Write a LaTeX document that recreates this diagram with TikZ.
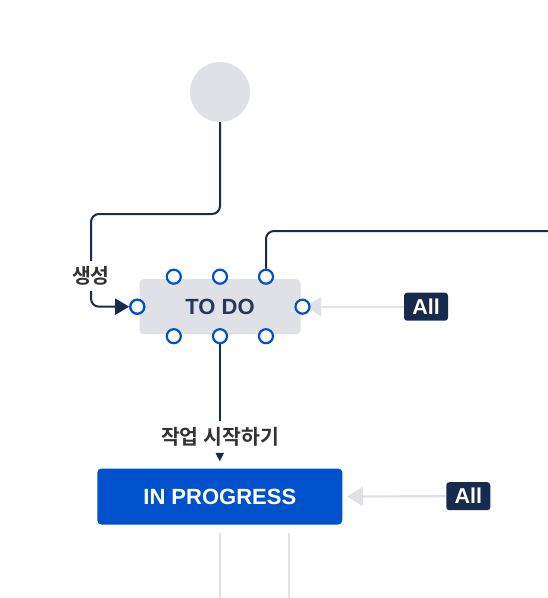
\documentclass[tikz,border=0pt]{standalone}
\usepackage{fontspec}
\setmainfont{Liberation Sans}
\newfontfamily\kr{Noto Sans CJK KR}[BoldFont={Noto Sans CJK KR Bold}]
\usetikzlibrary{arrows.meta}
\definecolor{navy}{HTML}{172B4D}
\definecolor{lgray}{HTML}{DFE1E6}
\definecolor{jblue}{HTML}{0052CC}
\definecolor{tdtext}{HTML}{253858}
\definecolor{lbltext}{HTML}{333333}
\tikzset{
  darkline/.style={draw=navy, line width=2pt},
  grayline/.style={draw=lgray, line width=2.2pt},
  statusbox/.style={rectangle, rounded corners=4pt, inner sep=0pt, font=\fontsize{22}{26}\selectfont\bfseries},
  handle/.style={circle, draw=jblue, fill=white, line width=2.2pt, minimum size=14pt, inner sep=0pt},
  allbox/.style={rectangle, rounded corners=3pt, fill=navy, text=white, minimum width=44pt, minimum height=28pt, inner sep=0pt, font=\fontsize{21.5}{24}\selectfont\bfseries},
  trlabel/.style={fill=white, inner sep=0pt, text=lbltext, font=\kr\fontsize{20.5}{24}\selectfont\bfseries},
}
\begin{document}
\begin{tikzpicture}[x=1pt,y=-1pt]
\useasboundingbox (0,0) rectangle (548,598);
% start circle
\node[circle, fill=lgray, minimum size=60pt, inner sep=0pt] (start) at (220,92) {};
% status boxes
\node[statusbox, fill=lgray, text=tdtext, minimum width=161pt, minimum height=55pt] (todo) at (220,306.7) {TO DO};
\node[statusbox, fill=jblue, text=white, minimum width=245pt, minimum height=56pt] (prog) at (219.8,496.5) {IN PROGRESS};
% All labels
\node[allbox] (all1) at (426,306.7) {All};
\node[allbox] (all2) at (468.3,496.2) {All};
% transitions from All
\draw[grayline, -{Triangle[length=16pt,width=19pt]}] (all1.west) -- ([xshift=4.4pt]todo.east);
\draw[grayline, -{Triangle[length=16pt,width=19pt]}] (all2.west) -- ([xshift=4.4pt]prog.east);
% handles
\node[handle] (ht1) at (173.8,276.7) {};
\node[handle] (ht2) at (220,276.7) {};
\node[handle] (ht3) at (266,276.7) {};
\node[handle] (hb1) at (173.8,336.2) {};
\node[handle] (hb2) at (220,336.2) {};
\node[handle] (hb3) at (266,336.2) {};
\node[handle] (hl) at (137.3,306.7) {};
\node[handle] (hr) at (302.5,306.7) {};
% create transition
\draw[darkline, rounded corners=8pt, -{Triangle[length=14pt,width=16pt]}] (start.south) -- (220,214) -- (91,214) -- (91,306.7) -- (hl.west);
\node[trlabel, minimum height=30pt] (create) at (91,275.5) {생성};
% redraw left handle above arrow
\node[handle] at (hl) {};
% top-right transition
\coordinate (rt) at (548,231);
\draw[darkline, rounded corners=8pt] (ht3.north) -- (266,231) -- (rt);
% start progress transition
\node[trlabel] (startlbl) at (220,437) {작업 시작하기};
\draw[darkline] (hb2.south) -- ([yshift=6pt]startlbl.north);
\fill[navy] ([xshift=-4.3pt,yshift=15.5pt]prog.north) -- ([xshift=4.3pt,yshift=15.5pt]prog.north) -- ([yshift=7pt]prog.north) -- cycle;
% lines below IN PROGRESS
\coordinate (b1) at (220,598);
\coordinate (b2) at (289.3,598);
\draw[grayline] (220,532.7) -- (b1);
\draw[grayline] (289.3,532.7) -- (b2);
\end{tikzpicture}
\end{document}
